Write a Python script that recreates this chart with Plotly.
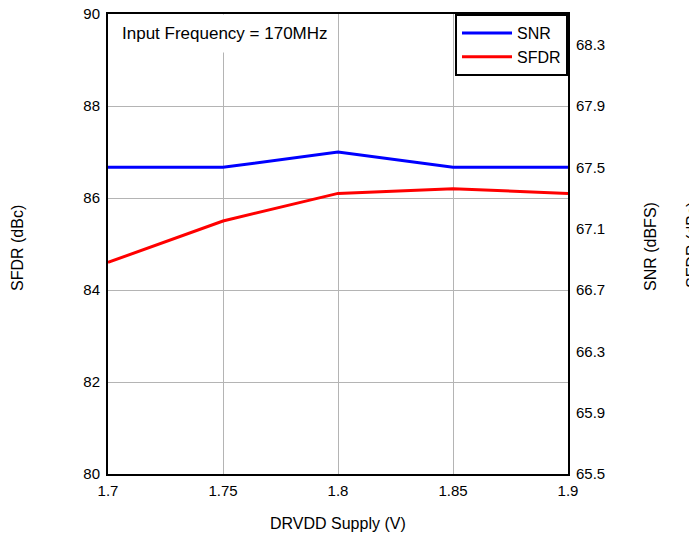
import plotly.graph_objects as go

supply_v = [1.7, 1.75, 1.8, 1.85, 1.9]
snr_dbfs = [67.5, 67.5, 67.6, 67.5, 67.5]
sfdr_dbc = [84.6, 85.5, 86.1, 86.2, 86.1]

x_ticks = [1.7, 1.75, 1.8, 1.85, 1.9]
x_tick_labels = ["1.7", "1.75", "1.8", "1.85", "1.9"]
sfdr_ticks = [80, 82, 84, 86, 88, 90]
snr_ticks = [65.5, 65.9, 66.3, 66.7, 67.1, 67.5, 67.9, 68.3]
snr_tick_labels = ["65.5", "65.9", "66.3", "66.7", "67.1", "67.5", "67.9", "68.3"]

FONT = "Liberation Sans, Arial, sans-serif"

# page body has an 8px margin; figure placed at (8, 8)
OX, OY = 8, 8
W, H = 697 - OX, 533 - OY
PL, PR, PT, PB = 108, 568, 14, 474  # plot area in window pixels
PW, PH = PR - PL, PB - PT


def px(x):
    return (x - PL) / PW


def py(y):
    return (PB - y) / PH


fig = go.Figure()
fig.add_trace(go.Scatter(x=supply_v, y=snr_dbfs, name="SNR", mode="lines",
                         line=dict(color="#0000ff", width=3), yaxis="y2"))
fig.add_trace(go.Scatter(x=supply_v, y=sfdr_dbc, name="SFDR", mode="lines",
                         line=dict(color="#ff0000", width=3), yaxis="y"))

fig.update_layout(
    width=W, height=H,
    margin=dict(l=PL - OX, r=697 - PR, t=PT - OY, b=533 - PB),
    paper_bgcolor="white", plot_bgcolor="white",
    font=dict(family=FONT, size=15, color="black"),
    showlegend=True,
    legend=dict(x=1, y=1, xanchor="right", yanchor="top",
                bgcolor="white", bordercolor="black", borderwidth=2,
                font=dict(size=16), tracegroupgap=0, itemwidth=50),
    xaxis=dict(range=[1.7, 1.9], tickvals=x_ticks, ticktext=x_tick_labels,
               showgrid=True, gridcolor="#b4b4b4", gridwidth=1,
               showline=True, linecolor="black", linewidth=2, mirror=True,
               ticks="", zeroline=False, ticklabelstandoff=2,
               automargin=False),
    yaxis=dict(range=[80, 90], tickvals=sfdr_ticks,
               showgrid=True, gridcolor="#b4b4b4", gridwidth=1,
               showline=True, linecolor="black", linewidth=2,
               ticks="", zeroline=False, ticklabelstandoff=3,
               ticklabeloverflow="allow", automargin=False),
    yaxis2=dict(range=[65.5, 68.5], tickvals=snr_ticks, ticktext=snr_tick_labels,
                overlaying="y", side="right", showgrid=False,
                showline=True, linecolor="black", linewidth=2,
                ticks="", zeroline=False, ticklabelstandoff=3,
                ticklabeloverflow="allow", automargin=False),
)

fig.add_annotation(text="Input Frequency = 170MHz", xref="paper", yref="paper",
                   x=px(112), y=1, xanchor="left", yanchor="top",
                   showarrow=False, bgcolor="white", borderpad=9,
                   font=dict(size=17))

fig.add_annotation(text="DRVDD Supply (V)", xref="paper", yref="paper",
                   x=px(338), y=py(523),
                   xanchor="center", yanchor="middle", showarrow=False,
                   font=dict(size=16))
fig.add_annotation(text="SFDR (dBc)", xref="paper", yref="paper",
                   x=px(18), y=py(248), textangle=-90,
                   xanchor="center", yanchor="middle", showarrow=False,
                   font=dict(size=16))
fig.add_annotation(text="SNR (dBFS)", xref="paper", yref="paper",
                   x=px(650), y=py(247), textangle=-90,
                   xanchor="center", yanchor="middle", showarrow=False,
                   font=dict(size=16))
fig.add_annotation(text="SFDR (dBc)", xref="paper", yref="paper",
                   x=px(692), y=py(245), textangle=-90,
                   xanchor="center", yanchor="middle", showarrow=False,
                   font=dict(size=16))

fig.write_html("out.html")
